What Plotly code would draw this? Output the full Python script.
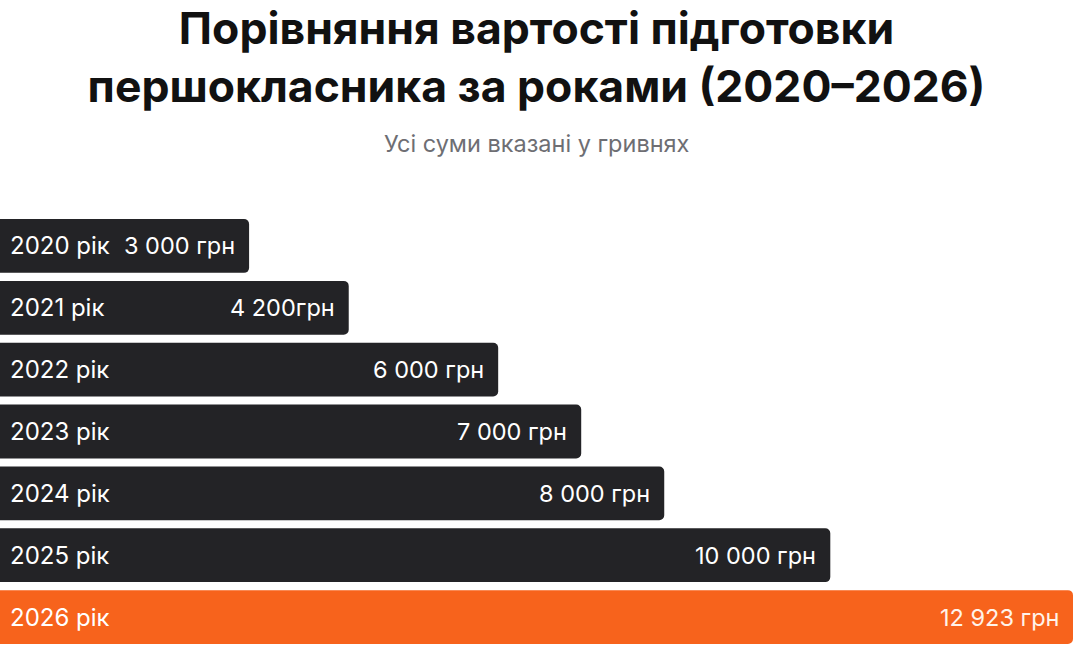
import plotly.graph_objects as go

# Вартість підготовки першокласника, грн
years = ["2020 рік", "2021 рік", "2022 рік", "2023 рік", "2024 рік", "2025 рік", "2026 рік"]
costs = [3000, 4200, 6000, 7000, 8000, 10000, 12923]
cost_labels = ["3 000 грн", "4 200грн", "6 000 грн", "7 000 грн", "8 000 грн", "10 000 грн", "12 923 грн"]

dark = "#232326"
orange = "#F7631C"
colors = [dark] * (len(years) - 1) + [orange]
text_colors = ["#FFFFFF"] * (len(years) - 1) + ["#FFF3EA"]

fig = go.Figure(go.Bar(
    y=years,
    x=costs,
    orientation="h",
    marker=dict(color=colors, cornerradius=5, line=dict(width=0)),
    hoverinfo="skip",
))

# підписи років зліва і сум справа всередині смуг
for y, c, lab, tc in zip(years, costs, cost_labels, text_colors):
    fig.add_annotation(x=0, y=y, text=y, showarrow=False, xanchor="left",
                       xshift=8, font=dict(family="Inter", size=24, color="#FFFFFF"))
    fig.add_annotation(x=c, y=y, text=lab, showarrow=False, xanchor="right",
                       xshift=-12, font=dict(family="Inter", size=23.5, color=tc))

fig.add_annotation(xref="paper", yref="paper", x=0.5, y=1.166, yanchor="middle",
                   text="Усі суми вказані у гривнях", showarrow=False,
                   font=dict(family="Inter", size=23.5, color="#6E6E73"))

fig.update_layout(
    width=1073, height=648,
    margin=dict(l=0, r=0, t=215, b=0, autoexpand=False),
    paper_bgcolor="white", plot_bgcolor="white",
    title=dict(text="<b>Порівняння вартості підготовки<br>першокласника за роками (2020–2026)</b>",
               x=0.5, xanchor="center", y=0.932, yanchor="middle",
               font=dict(family="Inter", size=44.5, color="#111111")),
    bargap=0.13,
    showlegend=False,
)
fig.update_xaxes(range=[0, max(costs)], visible=False, fixedrange=True)
fig.update_yaxes(autorange="reversed", visible=False, fixedrange=True)

# прибираємо стандартний відступ body, щоб графік стояв від краю вікна
fig.write_html("out.html", config={"displayModeBar": False},
               post_script="document.body.style.margin='0';")
